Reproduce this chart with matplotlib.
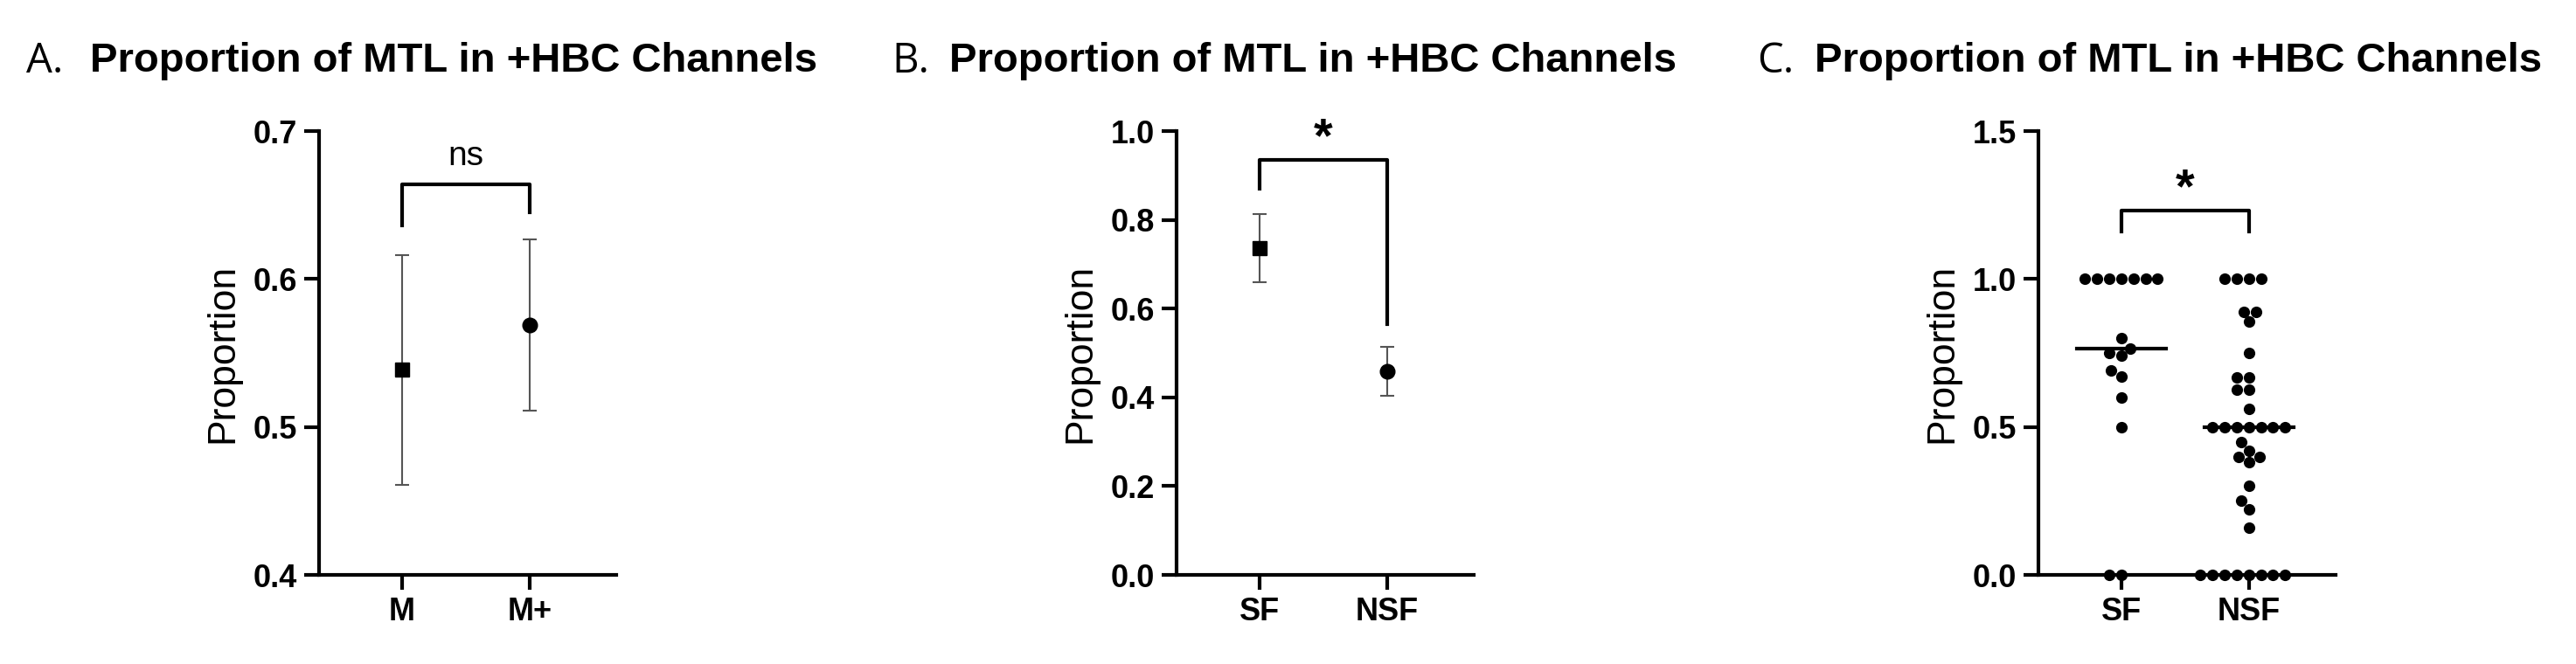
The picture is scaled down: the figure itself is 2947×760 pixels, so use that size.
import matplotlib
matplotlib.use("Agg")
import matplotlib.pyplot as plt
import seaborn as sns
import numpy as np
import pandas as pd

# Panel A
a_cats = ["M", "M+"]
a_mean = [0.539, 0.569]
a_lo = [0.461, 0.511]
a_hi = [0.616, 0.627]
# Panel B
b_cats = ["SF", "NSF"]
b_mean = [0.737, 0.458]
b_lo = [0.660, 0.403]
b_hi = [0.813, 0.514]
# Panel C
c_cats = ["SF", "NSF"]
c_sf = [1, 1, 1, 1, 1, 1, 1, 0.80, 0.765, 0.75, 0.74, 0.69, 0.67, 0.60, 0.50, 0, 0]
c_nsf = [1, 1, 1, 1, 0.89, 0.89, 0.855, 0.75, 0.667, 0.667, 0.625, 0.625, 0.56,
         0.5, 0.5, 0.5, 0.5, 0.5, 0.5, 0.5, 0.45, 0.42, 0.40, 0.40, 0.38, 0.30,
         0.25, 0.22, 0.16, 0, 0, 0, 0, 0, 0, 0, 0]

plt.rcParams['font.family'] = ['Liberation Sans', 'DejaVu Sans']
W, H = 2947, 760
fig = plt.figure(figsize=(W/100, H/100), dpi=100)

def mkax(left_px):
    ax = fig.add_axes([left_px/W, 1-658/H, 340/W, 508/H])
    ax.set_xlim(-0.65, 1.68)
    for s in ['top', 'right']:
        ax.spines[s].set_visible(False)
    for s in ['left', 'bottom']:
        ax.spines[s].set_linewidth(3)
    ax.tick_params(axis='both', width=3, length=12, labelsize=26, pad=6)
    return ax

def finish(ax):
    ax.set_xlabel("")
    ax.set_ylabel("Proportion", fontsize=32, labelpad=10)
    for t in ax.get_xticklabels() + ax.get_yticklabels():
        t.set_fontweight('bold')

def bracket(ax, y, yl, yr, txt, ty, fs, fw='normal'):
    ax.plot([0, 0, 1, 1], [yl, y, y, yr], color='black', lw=3, clip_on=False)
    ax.text(0.5, ty, txt, ha='center', va='bottom', fontsize=fs, fontweight=fw)

def errpanel(ax, mean, lo, hi):
    x = np.arange(len(mean))
    m = np.array(mean)
    yerr = [m - np.array(lo), np.array(hi) - m]
    ax.errorbar(x, m, yerr=yerr, fmt='none', ecolor='#555555', elinewidth=1.5,
                capsize=6, capthick=1.5)
    ax.plot(x[0], m[0], 's', color='black', ms=12)
    ax.plot(x[1], m[1], 'o', color='black', ms=12)

# A
ax = mkax(365)
errpanel(ax, a_mean, a_lo, a_hi)
ax.set_ylim(0.4, 0.7)
ax.set_yticks([0.4, 0.5, 0.6, 0.7])
ax.set_yticklabels(["0.4", "0.5", "0.6", "0.7"])
ax.set_xticks([0, 1]); ax.set_xticklabels(a_cats)
bracket(ax, 0.664, 0.636, 0.645, "ns", 0.672, 28)
finish(ax)

# B
ax = mkax(1346)
errpanel(ax, b_mean, b_lo, b_hi)
ax.set_ylim(0, 1.0)
ax.set_yticks([0, 0.2, 0.4, 0.6, 0.8, 1.0])
ax.set_yticklabels(["0.0", "0.2", "0.4", "0.6", "0.8", "1.0"])
ax.set_xticks([0, 1]); ax.set_xticklabels(b_cats)
bracket(ax, 0.935, 0.87, 0.565, "*", 0.93, 40, 'bold')
finish(ax)

# C
ax = mkax(2332)
df = pd.DataFrame({"g": ["SF"]*len(c_sf) + ["NSF"]*len(c_nsf),
                   "v": c_sf + c_nsf})
sns.swarmplot(data=df, x="g", y="v", order=c_cats, color='black', size=9.5, ax=ax,
              clip_on=False)
ax.set_xlim(-0.65, 1.68)
for i, vals in enumerate([c_sf, c_nsf]):
    med = np.median(vals)
    ax.plot([i-0.35, i+0.35], [med, med], color='black', lw=3)
ax.set_ylim(0, 1.5)
ax.set_yticks([0, 0.5, 1.0, 1.5])
ax.set_yticklabels(["0.0", "0.5", "1.0", "1.5"])
ax.set_xticks([0, 1]); ax.set_xticklabels(c_cats)
bracket(ax, 1.23, 1.16, 1.16, "*", 1.225, 40, 'bold')
finish(ax)

# titles
for xl, xb, lab in [(30, 103, "A."), (1020, 1086, "B."), (2010, 2076, "C.")]:
    fig.text(xl/W, 1-70/H, lab, fontsize=34, family=['Open Sans', 'DejaVu Sans'],
             va='center', ha='left')
    fig.text(xb/W, 1-70/H, "Proportion of MTL in +HBC Channels", fontsize=34,
             fontweight='bold', va='center', ha='left')

fig.savefig("out.png", dpi=100)
